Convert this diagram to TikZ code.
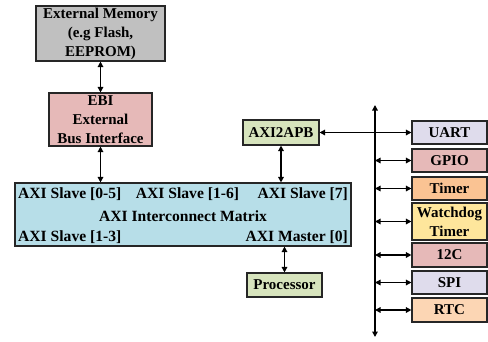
\documentclass[tikz,border=0pt]{standalone}
\usepackage{fontspec}
\setmainfont{Liberation Serif}
\usetikzlibrary{arrows.meta}
\definecolor{memgrey}{HTML}{C0C0C0}
\definecolor{rosebox}{HTML}{E6B9B8}
\definecolor{axiblue}{HTML}{B7DEE8}
\definecolor{sagebox}{HTML}{D7E4BD}
\definecolor{lilacbox}{HTML}{DFDCEC}
\definecolor{timerbox}{HTML}{FAC393}
\definecolor{wdtbox}{HTML}{FEE69C}
\definecolor{rtcbox}{HTML}{FCD6B4}
\tikzset{
  blk/.style={draw=black!85, line width=1.1pt, inner sep=0pt, align=center,
    font=\fontsize{15}{19}\selectfont\bfseries},
  lbl/.style={inner sep=0pt, font=\fontsize{15.6}{19}\selectfont\bfseries},
  tip/.style={Triangle[length=5.5pt,width=5.5pt]},
  link/.style={line width=1.5pt, {Triangle[length=5.5pt,width=5.5pt]}-{Triangle[length=5.5pt,width=5.5pt]}},
}
\begin{document}
\begin{tikzpicture}[x=1pt,y=-1pt]
\useasboundingbox[fill=white] (0,0) rectangle (488,341);

% memory side
\node[blk, fill=memgrey, minimum width=129pt, minimum height=55pt] (mem) at (100.5,33.5)
  {External Memory\\(e.g Flash,\\EEPROM)};
\node[blk, fill=rosebox, minimum width=103pt, minimum height=53pt] (ebi) at (100.5,119.5)
  {EBI\\External\\Bus Interface};

% interconnect
\node[blk, fill=axiblue, minimum width=336pt, minimum height=63pt] (mtx) at (183,214.5) {};
\node[lbl, anchor=west] (s05) at (18,194) {AXI Slave [0-5]};
\node[lbl] (s16) at (187.5,194) {AXI Slave [1-6]};
\node[lbl, anchor=east] (s7) at (348,194) {AXI Slave [7]};
\node[lbl] (mname) at (183,216) {AXI Interconnect Matrix};
\node[lbl, anchor=west] (s13) at (18,237) {AXI Slave [1-3]};
\node[lbl, anchor=east] (m0) at (348,237) {AXI Master [0]};

\node[blk, fill=sagebox, minimum width=76pt, minimum height=25pt] (bridge) at (281,132.5) {AXI2APB};
\node[blk, fill=sagebox, minimum width=75pt, minimum height=24pt] (cpu) at (284.5,285) {Processor};

% peripherals
\node[blk, fill=lilacbox, minimum width=75pt, minimum height=23pt] (uart) at (449.5,132.5) {UART};
\node[blk, fill=rosebox, minimum width=75pt, minimum height=23pt] (gpio) at (449.5,160.5) {GPIO};
\node[blk, fill=timerbox, minimum width=75pt, minimum height=23pt] (tmr) at (449.5,188.5) {Timer};
\node[blk, fill=wdtbox, minimum width=75pt, minimum height=37pt] (wdt) at (449.5,221.5) {Watchdog\\Timer};
\node[blk, fill=rosebox, minimum width=75pt, minimum height=24pt] (iic) at (449.5,255) {12C};
\node[blk, fill=lilacbox, minimum width=75pt, minimum height=23pt] (spi) at (449.5,282.5) {SPI};
\node[blk, fill=rtcbox, minimum width=75pt, minimum height=24pt] (rtc) at (449.5,310) {RTC};

% connections
\draw[link] (mem.south) -- (ebi.north);
\draw[link] (ebi.south) -- (ebi.south |- mtx.north);
\draw[link] (bridge.south) -- (bridge.south |- mtx.north);
\draw[link] (cpu.north) -- (cpu.north |- mtx.south);
\draw[link] (bridge.east) -- (uart.west);

% APB bus
\coordinate (bustop) at (375,105);
\coordinate (busbot) at (375,337);
\draw[link] (busbot) -- (bustop);
\foreach \p in {gpio,tmr,wdt,iic,spi,rtc}
  \draw[link] (bustop |- \p.west) -- (\p.west);
\end{tikzpicture}
\end{document}
